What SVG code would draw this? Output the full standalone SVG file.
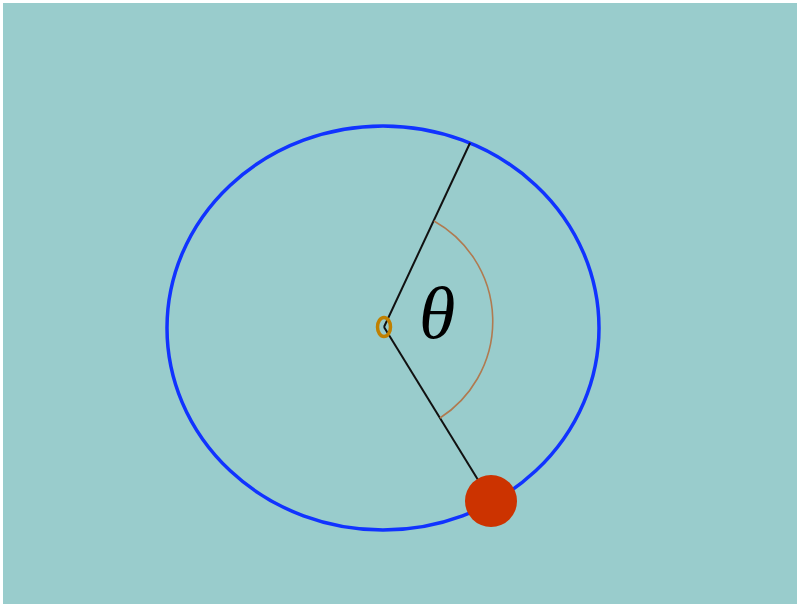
<svg xmlns="http://www.w3.org/2000/svg" width="797" height="604" viewBox="0 0 797 604">
<style>
.line{stroke:#111;stroke-width:2;fill:none}
</style>
<rect x="0" y="0" width="797" height="604" fill="#ffffff"/>
<rect x="3" y="3" width="794" height="601" fill="#99cccc"/>
<g id="orbit"><ellipse cx="383" cy="328" rx="216" ry="202" fill="none" stroke="#1133ff" stroke-width="3.5"/></g>
<g id="connectors">
<line class="line" x1="384" y1="327" x2="470" y2="143"/>
<line class="line" x1="384" y1="327" x2="491" y2="501"/>
<path d="M434,221 A115,115 0 0 1 440,418" fill="none" stroke="#b07a50" stroke-width="1.6"/>
</g>
<g id="center"><ellipse cx="384" cy="327" rx="6.5" ry="9.5" fill="none" stroke="#c08000" stroke-width="3.5"/></g>
<g id="mass"><circle cx="491" cy="501" r="26" fill="#cc3300"/></g>
<g id="label"><text x="419" y="338" font-family="Liberation Serif, serif" font-style="italic" font-size="74" fill="#000">θ</text></g>
</svg>
